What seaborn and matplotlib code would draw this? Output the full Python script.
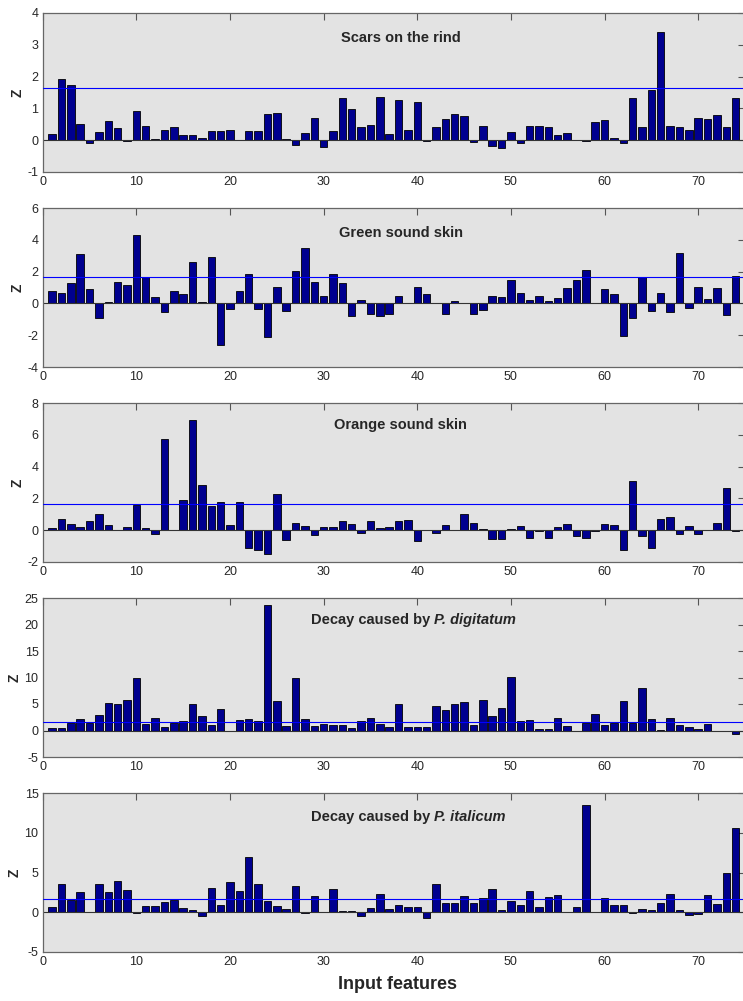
import numpy as np
import pandas as pd
import seaborn as sns
import matplotlib.pyplot as plt

# feature index 1..74
features = list(range(1, 75))

scars = [0.2, 1.93, 1.73, 0.5, -0.08, 0.25, 0.6, 0.38, -0.02, 0.92,
         0.45, 0.03, 0.31, 0.43, 0.15, 0.15, 0.06, 0.3, 0.3, 0.33,
         0.01, 0.28, 0.3, 0.82, 0.84, 0.05, -0.15, 0.22, 0.7, -0.2,
         0.3, 1.33, 0.98, 0.42, 0.47, 1.35, 0.19, 1.27, 0.32, 1.19,
         -0.02, 0.42, 0.66, 0.81, 0.76, -0.05, 0.46, -0.17, -0.26, 0.27,
         -0.1, 0.46, 0.45, 0.43, 0.15, 0.24, 0.01, -0.03, 0.57, 0.63,
         0.07, -0.1, 1.32, 0.4, 1.58, 3.4, 0.45, 0.42, 0.32, 0.71,
         0.66, 0.79, 0.4, 1.33]

green = [0.75, 0.68, 1.29, 3.08, 0.89, -0.92, 0.07, 1.34, 1.18, 4.28,
         1.65, 0.38, -0.52, 0.8, 0.59, 2.59, 0.1, 2.92, -2.61, -0.33,
         0.78, 1.84, -0.38, -2.12, 1.01, -0.47, 2.02, 3.48, 1.34, 0.47,
         1.84, 1.29, -0.82, 0.24, -0.66, -0.82, -0.66, 0.49, 0.0, 1.04,
         0.56, 0.02, -0.64, 0.14, 0.03, -0.64, -0.42, 0.49, 0.4, 1.46,
         0.68, 0.24, 0.49, 0.14, 0.31, 0.94, 1.46, 2.09, 0.0, 0.89,
         0.56, -2.05, -0.89, 1.65, -0.45, 0.68, -0.52, 3.18, -0.3, 1.04,
         0.28, 0.99, -0.73, 1.74]

orange = [0.13, 0.69, 0.4, 0.21, 0.57, 0.99, 0.34, 0.0, 0.17, 1.57,
          0.13, -0.23, 5.72, 0.0, 1.89, 6.96, 2.85, 1.51, 1.76, 0.31,
          1.8, -1.13, -1.26, -1.5, 2.26, -0.59, 0.48, 0.25, -0.31, 0.21,
          0.21, 0.61, 0.4, -0.19, 0.57, 0.13, 0.17, 0.57, 0.65, -0.71,
          0.0, -0.17, 0.34, 0.0, 1.0, 0.44, 0.05, -0.57, -0.57, 0.05,
          0.25, -0.46, -0.05, -0.46, 0.21, 0.4, -0.38, -0.5, -0.05, 0.36,
          0.31, -1.22, 3.1, -0.38, -1.15, 0.73, 0.84, -0.27, 0.25, -0.21,
          0.0, 0.46, 2.64, -0.03]

digitatum = [0.38, 0.5, 1.5, 2.13, 1.5, 3.0, 5.2, 5.08, 5.7, 10.0,
             1.26, 2.45, 0.63, 1.5, 1.88, 4.96, 2.76, 1.13, 4.14, -0.1,
             2.0, 2.26, 1.76, 23.7, 5.6, 0.94, 9.85, 2.13, 0.88, 1.26,
             1.07, 1.07, 0.38, 1.88, 2.39, 1.32, 0.69, 4.96, 0.63, 0.75,
             0.63, 4.7, 3.9, 4.96, 5.33, 1.13, 5.78, 2.82, 4.27, 10.17,
             1.88, 2.0, 0.25, 0.25, 2.45, 0.88, -0.1, 1.38, 3.14, 1.0,
             1.38, 5.6, 1.38, 8.03, 2.26, 0.1, 2.39, 1.07, 0.57, 0.3,
             1.26, 0.0, 0.0, -0.69]

italicum = [0.6, 3.52, 1.55, 2.54, 0.0, 3.52, 2.54, 3.9, 2.82, -0.15,
            0.75, 0.75, 1.31, 1.55, 0.56, 0.33, -0.47, 3.1, 0.94, 3.8,
            2.68, 6.95, 3.52, 1.41, 0.75, 0.47, 3.29, -0.1, 2.02, 0.05,
            2.91, 0.2, 0.2, -0.47, 0.52, 2.25, 0.47, 0.94, 0.61, 0.61,
            -0.7, 3.57, 1.17, 1.17, 2.02, 1.17, 1.78, 2.96, 0.28, 1.41,
            0.89, 2.68, 0.7, 1.92, 2.11, 0.0, 0.61, 13.5, 0.0, 1.78,
            0.94, 0.94, -0.05, 0.38, 0.23, 1.13, 2.3, 0.23, -0.38, -0.28,
            2.2, 1.03, 4.93, 10.6]

z_crit = 1.645

# (values, title, italic part, ylim, yticks)
panels = [
    (scars, "Scars on the rind", None, (-1, 4), [-1, 0, 1, 2, 3, 4]),
    (green, "Green sound skin", None, (-4, 6), [-4, -2, 0, 2, 4, 6]),
    (orange, "Orange sound skin", None, (-2, 8), [-2, 0, 2, 4, 6, 8]),
    (digitatum, "Decay caused by ", "P. digitatum", (-5, 25), [-5, 0, 5, 10, 15, 20, 25]),
    (italicum, "Decay caused by ", "P. italicum", (-5, 15), [-5, 0, 5, 10, 15]),
]

sns.set_style("white")
plt.rcParams['font.family'] = ['Liberation Sans', 'DejaVu Sans']
plt.rcParams['axes.unicode_minus'] = False

W, H = 743, 1001
fig = plt.figure(figsize=(W / 100, H / 100), dpi=100)

left_px, right_px = 42.7, 745
top0, panel_h, pitch = 13, 159, 195
title_y = [0.84, 0.84, 0.86, 0.86, 0.85]

for k, (vals, title, ital, ylim, yticks) in enumerate(panels):
    top = top0 + k * pitch
    bot = top + panel_h
    ax = fig.add_axes([left_px / W, 1 - bot / H, (right_px - left_px) / W, panel_h / H])
    ax.set_facecolor('#e3e3e3')
    df = pd.DataFrame({'feature': features, 'z': vals})
    sns.barplot(data=df, x='feature', y='z', native_scale=True, color='#00008f',
                saturation=1, edgecolor='black', linewidth=0.6, width=0.8,
                errorbar=None, ax=ax)
    ax.axhline(0, color='#333333', lw=0.8, zorder=1)
    ax.axhline(z_crit, color='#0000ff', lw=0.8, zorder=3)
    ax.set_xlim(0, 75)
    ax.set_ylim(*ylim)
    ax.set_xticks([0, 10, 20, 30, 40, 50, 60, 70])
    ax.set_xticklabels(['0', '10', '20', '30', '40', '50', '60', '70'])
    ax.set_yticks(yticks)
    ax.tick_params(direction='in', length=5, width=0.8, color='#555555',
                   labelsize=9, top=True, right=True, pad=3)
    ax.set_xlabel('')
    ax.set_ylabel('Z', fontsize=10, fontweight='bold', labelpad=2)
    for s in ax.spines.values():
        s.set_color('#666666')
        s.set_linewidth(0.9)
    ty = title_y[k]
    if ital is None:
        ax.text(0.51, ty, title, transform=ax.transAxes, ha='center', va='center',
                fontsize=10.5, fontweight='bold')
    else:
        ax.text(0.557, ty, title, transform=ax.transAxes, ha='right', va='center',
                fontsize=10.5, fontweight='bold')
        ax.text(0.557, ty, ital, transform=ax.transAxes, ha='left', va='center',
                fontsize=10.5, fontweight='bold', style='italic')

fig.text(0.535, 0.016, 'Input features', ha='center', va='center',
         fontsize=13, fontweight='bold')

fig.savefig('out.png', dpi=100)
